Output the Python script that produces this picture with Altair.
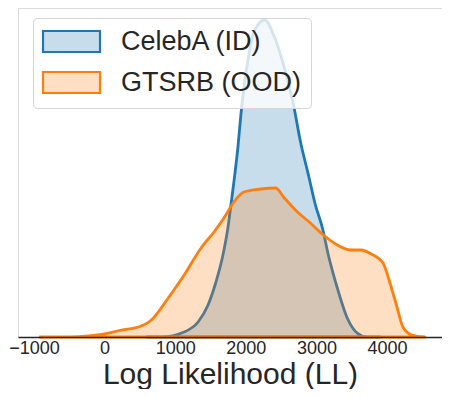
import altair as alt
import pandas as pd

series_names = ["CelebA (ID)", "GTSRB (OOD)"]

celeba_ll = [600, 803, 1127, 1324, 1465, 1577, 1676, 1746, 1789, 1831, 1887, 1930, 1972,
             2042, 2113, 2268, 2394, 2535, 2676, 2775, 2887, 2986, 3085, 3169, 3296, 3437,
             3577, 3718, 3900]
celeba_density = [0, 0, 5, 15, 32, 55, 82, 109, 132, 155, 189, 222, 249,
                  282, 305, 317, 302, 272, 232, 195, 162, 132, 109, 82, 49, 19,
                  4, 0, 0]

gtsrb_ll = [-915, -500, -225, 0, 239, 479, 662, 901, 1127, 1366, 1549, 1690, 1831, 1972,
            2211, 2423, 2535, 2732, 2915, 3099, 3296, 3479, 3620, 3803, 3944, 4042, 4141,
            4225, 4352, 4535]
gtsrb_density = [0, 0, 1, 3, 7, 10, 17, 39, 62, 89, 105, 119, 135, 145,
                 148, 149, 140, 125, 114, 102, 92, 87, 87, 82, 74, 54, 30,
                 10, 2, 0]

x_ticks = [-1000, 0, 1000, 2000, 3000, 4000]

rows = []
for v, d in zip(celeba_ll, celeba_density):
    rows.append({"value": v, "density": d, "series": series_names[0]})
for v, d in zip(gtsrb_ll, gtsrb_density):
    rows.append({"value": v, "density": d, "series": series_names[1]})
df = pd.DataFrame(rows)

FONT = "Liberation Sans"
TXT = "#262626"

fill_scale = alt.Scale(domain=series_names,
                       range=["rgba(31,119,180,0.25)", "rgba(255,127,14,0.25)"])
stroke_scale = alt.Scale(domain=series_names, range=["#1f77b4", "#ff7f0e"])

legend = alt.Legend(
    orient="none", legendX=15, legendY=10, title=None,
    symbolType="M-2.714,-1H2.714V1H-2.714Z", symbolSize=441,
    symbolStrokeWidth=2.2, symbolOffset=15, labelOffset=36, labelLimit=400,
    labelFontSize=27, labelFont=FONT, labelColor=TXT,
    padding=10, rowPadding=10,
    fillColor="rgba(255,255,255,0.8)", strokeColor="#d6d6d6", cornerRadius=4,
)

x_enc = alt.X(
    "value:Q",
    scale=alt.Scale(domain=[-1227, 4779], nice=False, zero=False),
    axis=alt.Axis(
        values=x_ticks, format="d", ticks=False, grid=False,
        labelFontSize=18, labelFont=FONT, labelColor=TXT, labelPadding=2,
        domainColor=TXT, domainWidth=1.5,
        title="Log Likelihood (LL)", titleFontSize=30, titleFont=FONT,
        titleFontWeight="normal", titleColor=TXT, titlePadding=2, zindex=1,
    ),
)
y_enc = alt.Y("density:Q", scale=alt.Scale(domain=[0, 329], nice=False, zero=True), axis=None)


def layer(name):
    return alt.Chart(df).transform_filter(alt.datum.series == name).mark_area(
        interpolate="monotone", strokeWidth=2.8, strokeJoin="round"
    ).encode(
        x=x_enc,
        y=y_enc,
        fill=alt.Fill("series:N", scale=fill_scale, legend=legend),
        stroke=alt.Stroke("series:N", scale=stroke_scale, legend=legend),
    )


chart = alt.layer(layer(series_names[0]), layer(series_names[1])).properties(
    width=424, height=329,
    autosize=alt.AutoSizeParams(type="none"),
    padding={"left": 10, "top": 0, "right": 0, "bottom": 52},
).configure_view(stroke="transparent", strokeWidth=0).configure(background="white")

chart.save("out.html", embed_options={"renderer": "svg", "actions": False})
